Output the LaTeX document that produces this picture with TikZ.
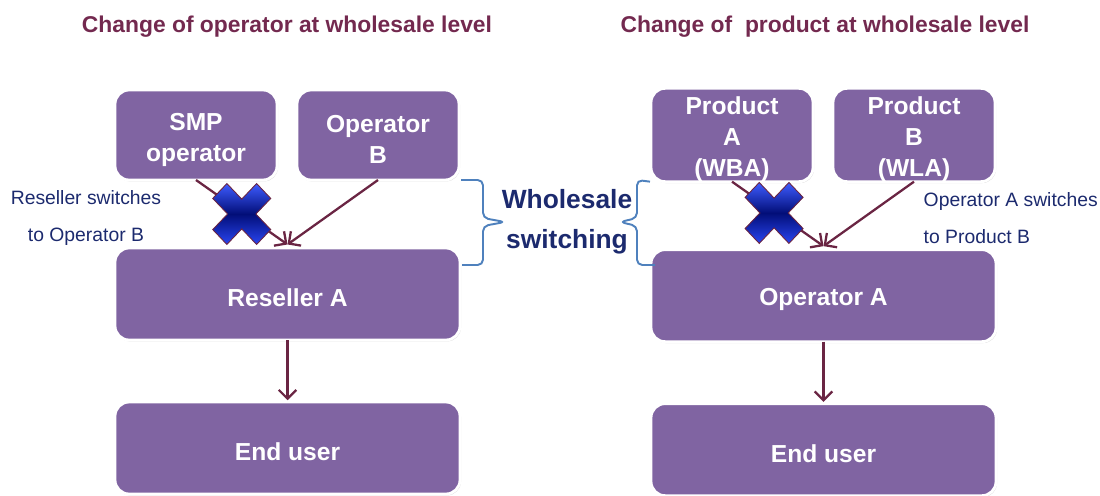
\documentclass[tikz,border=0pt]{standalone}
\usepackage{fontspec}
\setmainfont{Liberation Sans}
\usetikzlibrary{arrows.meta,calc,positioning,shadows}
\definecolor{boxfill}{HTML}{8064A2}
\definecolor{arrowc}{HTML}{6A2543}
\definecolor{titlec}{HTML}{73294F}
\definecolor{navy}{HTML}{1C2A6E}
\definecolor{bracec}{HTML}{4F81BD}
\definecolor{xtop}{HTML}{3E5CFF}
\definecolor{xmid}{HTML}{020E78}
\definecolor{xbot}{HTML}{2945F0}
\pgfdeclareverticalshading{xshade}{100bp}{color(0bp)=(xbot); color(25bp)=(xbot); color(50bp)=(xmid); color(75bp)=(xtop); color(100bp)=(xtop)}
\tikzset{
  xmark/.pic={
    \path[shading=xshade,draw=arrowc,line width=0.5pt,yscale=1.05]
      (-0.297,0.580) -- (0,0.283) -- (0.297,0.580) -- (0.580,0.297) -- (0.283,0) -- (0.580,-0.297)
      -- (0.297,-0.580) -- (0,-0.283) -- (-0.297,-0.580) -- (-0.580,-0.297) -- (-0.283,0) -- (-0.580,0.297) -- cycle;
  }
}
\begin{document}
\begin{tikzpicture}[
  box/.style={draw=white,line width=1.6pt,fill=boxfill,rounded corners=8pt,minimum height=1.8cm,outer sep=0pt,
    text=white,font=\fontsize{14}{17.6}\selectfont\bfseries,align=center,
    drop shadow={shadow xshift=0.6pt,shadow yshift=-0.8pt,opacity=0.3}},
  small/.style={box,minimum width=3.24cm,text width=3cm,inner ysep=0pt,text height=15pt},
  wide/.style={box,minimum width=6.9cm,minimum height=1.84cm,text height=14.5pt},
  arr/.style={draw=arrowc,line width=1.3pt,-{Straight Barb[length=5pt,width=10pt]}},
  brace/.style={draw=bracec,line width=1.1pt,rounded corners=3pt},
  note/.style={text=navy,font=\fontsize{11}{21}\selectfont},
  title/.style={text=titlec,font=\fontsize{13}{15}\selectfont\bfseries}]

  \useasboundingbox (0,0) rectangle (22,-9.9);

  \node[title] (TitleL) at (5.74,-0.54) {Change of operator at wholesale level};
  \node[title] (TitleR) at (16.5,-0.54) {Change of~ product at wholesale level};

  % operator side
  \node[small] (SMP) at (3.92,-2.7) {SMP\\operator};
  \node[small,right=0.4cm of SMP] (OpB) {Operator\\B};
  \node[wide,below right=1.36cm and 0cm of SMP.south west] (ResA) {Reseller A};
  \node[wide,below=1.24cm of ResA] (EndL) {End user};

  % product side
  \node[small,right=3.84cm of OpB] (ProdA) {Product\\A\\(WBA)};
  \node[small,right=0.4cm of ProdA] (ProdB) {Product\\B\\(WLA)};
  \node[wide,below right=1.36cm and 0cm of ProdA.south west] (OpA) {Operator A};
  \node[wide,below=1.24cm of OpA] (EndR) {End user};

  \draw[arr] (SMP.south) -- ([yshift=2pt]ResA.north);
  \draw[arr] (OpB.south) -- ([yshift=2pt]ResA.north);
  \draw[arr] (ResA.south) -- ([yshift=1pt]EndL.north);
  \draw[arr] (ProdA.south) -- ([yshift=2pt]OpA.north);
  \draw[arr] (ProdB.south) -- ([yshift=2pt]OpA.north);
  \draw[arr] (OpA.south) -- ([yshift=1pt]EndR.north);

  \pic at ($(SMP.south)!0.5!(ResA.north)$) {xmark};
  \pic at ($(ProdA.south)!0.46!(OpA.north)$) {xmark};

  \node[note,align=center] (NoteL) at (1.72,-4.36) {Reseller switches\\to Operator B};
  \node[note,align=left,anchor=west] (NoteR) at (18.35,-4.36) {Operator A switches\\to Product B};

  \node[text=navy,font=\fontsize{15}{22.5}\selectfont\bfseries,align=center] (WS) at (11.34,-4.44) {Wholesale\\switching};

  % braces
  \draw[brace] ($(OpB.south east)+(0.04,0)$) -- (9.66,-3.6) -- (9.66,-4.36) -- (10.1,-4.44)
    -- (9.66,-4.52) -- (9.66,-5.3) -- (9.24,-5.3);
  \draw[brace] ($(ProdA.south west)+(-0.02,0)$) -- (12.74,-3.6) -- (12.74,-4.36) -- (12.4,-4.44)
    -- (12.74,-4.52) -- (12.74,-5.3) -- (13.1,-5.3);
\end{tikzpicture}
\end{document}
